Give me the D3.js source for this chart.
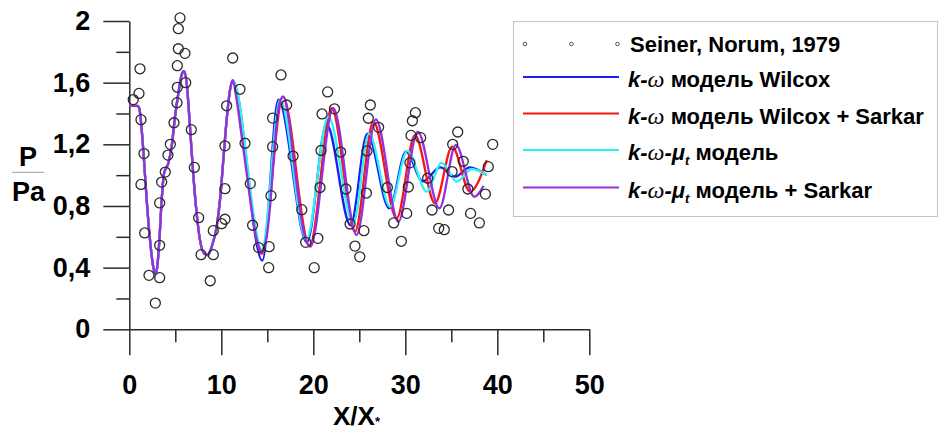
<!DOCTYPE html>
<html>
<head>
<meta charset="utf-8">
<script src="https://cdn.jsdelivr.net/npm/d3@7/dist/d3.min.js"></script>
<style>
  html, body { margin: 0; padding: 0; background: #fff; }
  svg { display: block; }
  text { font-family: "Liberation Sans", Arial, sans-serif; }
</style>
</head>
<body>
<svg id="chart" width="939" height="432"></svg>
<script>
// Measured static pressure ratio along the jet (Seiner, Norum, 1979)
const expX = [0.43, 1.05, 1.16, 1.27, 1.6, 1.27, 1.67, 2.14, 2.83, 3.3, 3.3, 3.3, 3.52, 3.91, 4.2, 4.46, 4.86,
  5.18, 5.22, 5.22, 5.33, 5.33, 5.51, 6.05, 6.13, 6.74, 7.07, 7.54, 7.8, 8.8, 9.13, 9.13, 10.04, 10.4, 10.4,
  10.4, 10.58, 11.24, 12.03, 12.58, 13.15, 13.4, 14.06, 15.15, 15.2, 15.4, 15.58, 15.58, 16.49, 17.1, 17.8,
  18.75, 19.17, 20.1, 20.5, 20.73, 20.84, 20.95, 21.56, 22.3, 22.97, 23.55, 24.0, 24.53, 25.05, 25.5, 25.77,
  25.84, 25.98, 26.2, 27.1, 28.05, 28.74, 29.57, 30.15, 30.33, 30.5, 30.62, 30.77, 31.1, 31.67, 32.43, 32.9,
  33.63, 34.24, 34.7, 35.08, 35.15, 35.7, 36.3, 36.8, 37.1, 38.05, 38.7, 39.02, 39.5];
const expY = [1.49, 1.53, 1.69, 1.36, 1.14, 0.94, 0.625, 0.35, 0.17, 0.335, 0.545, 0.82, 0.955, 1.02, 1.13, 1.2, 1.34,
  1.47, 1.57, 1.71, 1.82, 1.95, 2.02, 1.79, 1.6, 1.295, 1.05, 0.724, 0.484, 0.315, 0.484, 0.64, 0.685, 0.714, 0.912,
  1.19, 1.45, 1.76, 1.557, 1.207, 0.945, 0.675, 0.53, 0.40, 0.536, 0.867, 1.185, 1.37, 1.65, 1.455, 1.124,
  0.776, 0.564, 0.40, 0.59, 0.92, 1.16, 1.397, 1.54, 1.43, 1.15, 0.91, 0.683, 0.54, 0.47, 0.64, 0.884,
  1.157, 1.369, 1.455, 1.31, 0.92, 0.69, 0.571, 0.752, 0.923, 1.08, 1.258, 1.353, 1.405, 1.243, 0.98, 0.774,
  0.655, 0.646, 0.774, 1.023, 1.2, 1.28, 1.09, 0.91, 0.752, 0.69, 0.877, 1.055, 1.2];

// Near-field part common to all four computations
const nearField = [[0, 1.45], [0.9, 1.45], [1.1, 1.43], [1.25, 1.36], [1.52, 1.163], [1.89, 0.839], [2.25, 0.58],
  [2.6, 0.406], [2.85, 0.36], [3.04, 0.406], [3.27, 0.58], [3.52, 0.839], [3.77, 1.01], [4.24, 1.077], [4.6, 1.185],
  [4.97, 1.38], [5.33, 1.53], [5.69, 1.65], [5.95, 1.674], [6.24, 1.596], [6.52, 1.38], [6.89, 1.055], [7.25, 0.795],
  [7.68, 0.58], [8.12, 0.493], [8.55, 0.482], [8.96, 0.536], [9.5, 0.666], [9.86, 0.839], [10.22, 1.098],
  [10.58, 1.358], [10.95, 1.553]];

// Downstream parts of each computed profile
const wilcoxTail = [[11.2, 1.6], [14.46, 0.445], [16.2, 1.49], [19.3, 0.565], [21.45, 1.33], [24.05, 0.675],
  [25.87, 1.27], [28.26, 0.785], [30.08, 1.152], [31.9, 0.96], [33.8, 1.05], [35.4, 0.99], [37.0, 1.05], [38.85, 1.0]];
const wilcoxSarkarTail = [[11.24, 1.617], [14.4, 0.49], [16.7, 1.51], [19.6, 0.54], [22.0, 1.434], [24.53, 0.633],
  [26.52, 1.347], [29.06, 0.72], [31.05, 1.26], [33.23, 0.817], [35.1, 1.185], [37.03, 0.893], [38.85, 1.098]];
const muTTail = [[11.24, 1.617], [14.42, 0.52], [16.4, 1.49], [19.25, 0.58], [21.63, 1.38], [24.35, 0.688],
  [26.05, 1.27], [28.34, 0.795], [30.23, 1.158], [32.33, 0.893], [33.95, 1.08], [35.6, 0.958], [37.2, 1.04], [38.85, 1.0]];
const muTSarkarTail = [[11.24, 1.617], [11.67, 1.488], [12.22, 1.25], [12.76, 1.012], [13.3, 0.774], [13.85, 0.58],
  [14.39, 0.503], [14.93, 0.6], [15.3, 0.795], [15.65, 1.077], [16.02, 1.336], [16.38, 1.477], [16.74, 1.509],
  [17.28, 1.38], [17.83, 1.12], [18.37, 0.86], [18.91, 0.644], [19.68, 0.536], [22.17, 1.434], [24.7, 0.612],
  [26.8, 1.362], [29.25, 0.698], [31.35, 1.282], [33.7, 0.785], [35.5, 1.196], [37.5, 0.86], [38.5, 0.93]];

const xMajor = [0, 10, 20, 30, 40, 50];
const xMinor = [5, 15, 25, 35, 45];
const yMajor = [0, 0.4, 0.8, 1.2, 1.6, 2];
const yMinor = [0.2, 0.6, 1.0, 1.4, 1.8];

const series = [
  { key: "wilcox", color: "#1c1cf5", tail: wilcoxTail },
  { key: "wilcoxSarkar", color: "#f51616", tail: wilcoxSarkarTail },
  { key: "muT", color: "#2cf2f2", tail: muTTail },
  { key: "muTSarkar", color: "#9630dc", tail: muTSarkarTail }
];

const svg = d3.select("#chart");
const x = d3.scaleLinear().domain([0, 50]).range([129.3, 589.3]);
const y = d3.scaleLinear().domain([0, 2]).range([329.3, 21]);
const axisColor = "#2b2b2b";
const fmt = v => d3.format("")(v).replace(".", ",");
const tickFont = g => g.selectAll(".tick text").attr("font-size", 27).attr("font-weight", "bold")
  .attr("font-family", "'Liberation Sans', Arial, sans-serif").attr("fill", "#000");

// Y axis: long major ticks with labels, short minor ticks
const gy = svg.append("g").attr("transform", `translate(${x(0)},0)`);
gy.call(d3.axisLeft(y).tickValues(yMajor).tickSize(26).tickSizeOuter(0).tickPadding(13).tickFormat(fmt));
gy.call(tickFont);
const gyMinor = svg.append("g").attr("transform", `translate(${x(0)},0)`);
gyMinor.call(d3.axisLeft(y).tickValues(yMinor).tickSize(13).tickSizeOuter(0).tickFormat(""));
gyMinor.select(".domain").remove();

// X axis
const gx = svg.append("g").attr("transform", `translate(0,${y(0)})`);
gx.call(d3.axisBottom(x).tickValues(xMajor).tickSize(26).tickSizeOuter(0).tickPadding(20).tickFormat(d3.format("d")));
gx.call(tickFont);
const gxMinor = svg.append("g").attr("transform", `translate(0,${y(0)})`);
gxMinor.call(d3.axisBottom(x).tickValues(xMinor).tickSize(13).tickSizeOuter(0).tickFormat(""));
gxMinor.select(".domain").remove();

svg.selectAll(".domain, .tick line").attr("stroke", axisColor).attr("stroke-width", 1.5);

// Computed profiles
const line = d3.line().x(d => x(d[0])).y(d => y(d[1])).curve(d3.curveMonotoneX);
series.forEach(s => {
  const pts = nearField.concat(s.tail);
  svg.append("path").datum(pts)
    .attr("d", line).attr("fill", "none")
    .attr("stroke", s.color).attr("stroke-width", 2.3).attr("stroke-linejoin", "round");
});

// Experimental points
svg.append("g").selectAll("circle").data(d3.range(expX.length)).join("circle")
  .attr("cx", i => x(expX[i])).attr("cy", i => y(expY[i])).attr("r", 5)
  .attr("fill", "none").attr("stroke", "#2a2a2a").attr("stroke-width", 1.3);

// Axis titles
const yt = svg.append("g").attr("font-weight", "bold").attr("font-size", 27);
yt.append("text").attr("x", 28).attr("y", 165.5).attr("text-anchor", "middle").text("P");
yt.append("line").attr("x1", 12.3).attr("x2", 44).attr("y1", 172.3).attr("y2", 172.3)
  .attr("stroke", "#999").attr("stroke-width", 1);
const pa = yt.append("text").attr("x", 12).attr("y", 201);
pa.append("tspan").text("P");
pa.append("tspan").text("a");

const xt = svg.append("text").attr("x", 333).attr("y", 425)
  .attr("font-weight", "bold").attr("font-size", 26);
xt.append("tspan").text("X/X");
xt.append("tspan").attr("font-size", 13).attr("dy", 1).text("*");

// Legend
const lg = svg.append("g");
lg.append("rect").attr("x", 513.5).attr("y", 21.5).attr("width", 424).attr("height", 195)
  .attr("fill", "#fff").attr("stroke", "#c4c4c4").attr("stroke-width", 1);
const lx0 = 523, lx1 = 619, tx = 630;
const rowY = [44, 77, 113.5, 150, 187.5];
[525, 571.5, 617.5].forEach(cx => {
  lg.append("circle").attr("cx", cx).attr("cy", rowY[0]).attr("r", 1.8)
    .attr("fill", "none").attr("stroke", "#555").attr("stroke-width", 1);
});
lg.append("text").attr("x", tx).attr("y", rowY[0] + 8).attr("font-size", 22).attr("font-weight", "bold")
  .text("Seiner, Norum, 1979");

const labels = [
  [["k-", "bi"], ["ω", "om"], [" модель Wilcox", "b"]],
  [["k-", "bi"], ["ω", "om"], [" модель Wilcox + Sarkar", "b"]],
  [["k-", "bi"], ["ω", "om"], ["-μ", "bi"], ["t", "sub"], [" модель", "b"]],
  [["k-", "bi"], ["ω", "om"], ["-μ", "bi"], ["t", "sub"], [" модель + Sarkar", "b"]]
];
series.forEach((s, i) => {
  const yy = rowY[i + 1];
  lg.append("line").attr("x1", lx0).attr("x2", lx1).attr("y1", yy).attr("y2", yy)
    .attr("stroke", s.color).attr("stroke-width", 2.2);
  const t = lg.append("text").attr("x", tx - 2).attr("y", yy + 10)
    .attr("font-size", 22).attr("font-weight", "bold");
  let shifted = false;
  labels[i].forEach(([str, style]) => {
    const sp = t.append("tspan").text(str);
    if (style === "bi") sp.attr("font-style", "italic");
    if (style === "om") sp.attr("font-style", "italic").attr("font-weight", "normal")
      .attr("font-family", "'Liberation Serif', 'Times New Roman', serif").attr("font-size", 24);
    if (style === "sub") { sp.attr("font-style", "italic").attr("font-size", 13).attr("dy", 5); shifted = true; }
    else if (shifted) { sp.attr("dy", -5); shifted = false; }
  });
});
</script>
</body>
</html>
